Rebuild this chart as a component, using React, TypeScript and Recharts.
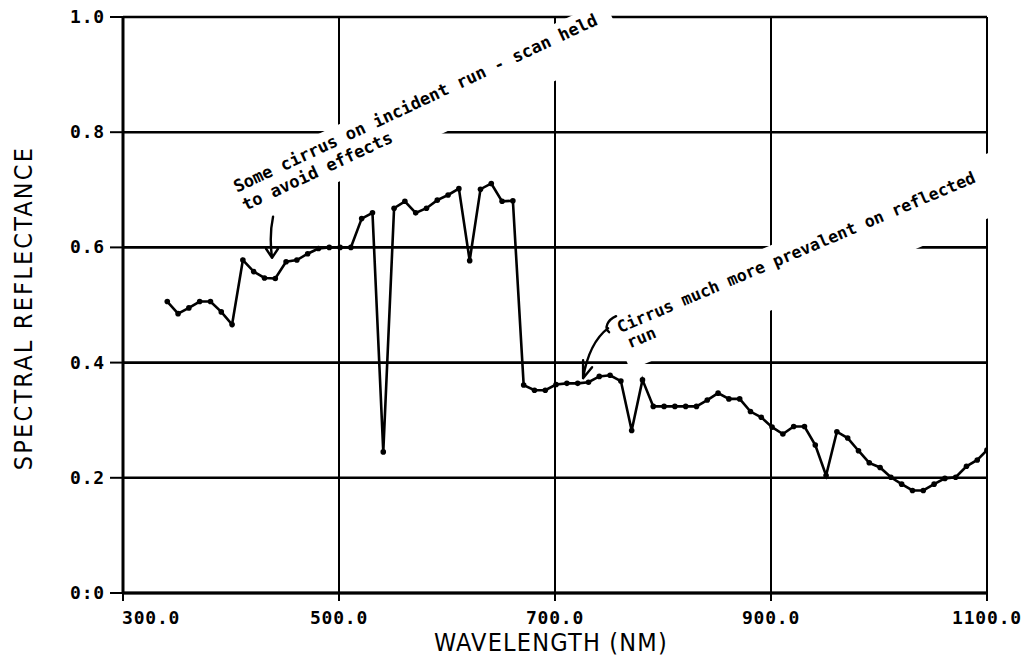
import React from 'react';
import { LineChart, Line, XAxis, YAxis, CartesianGrid, ReferenceDot, Label } from 'recharts';

// wavelength (nm) of each plotted sample
const wavelengths = [
  341, 351, 361, 371, 381, 391, 401, 411, 421, 431, 441, 451, 461, 471, 481, 491, 501, 511, 521, 531,
  541, 551, 561, 571, 581, 591, 601, 611, 621, 631, 641, 651, 661, 671, 681, 691, 701, 711, 721, 731,
  741, 751, 761, 771, 781, 791, 801, 811, 821, 831, 841, 851, 861, 871, 881, 891, 901, 911, 921, 931,
  941, 951, 961, 971, 981, 991, 1001, 1011, 1021, 1031, 1041, 1051, 1061, 1071, 1081, 1091, 1100,
];

// spectral reflectance
const reflectance = [
  0.506, 0.485, 0.495, 0.506, 0.506, 0.488, 0.466, 0.578, 0.558, 0.547, 0.546, 0.575, 0.578, 0.589,
  0.598, 0.6, 0.6, 0.6, 0.65, 0.66, 0.245, 0.668, 0.68, 0.66, 0.668, 0.682, 0.691, 0.702, 0.577,
  0.701, 0.711, 0.68, 0.681, 0.361, 0.352, 0.352, 0.362, 0.364, 0.364, 0.366, 0.376, 0.378, 0.368,
  0.282, 0.37, 0.324, 0.324, 0.324, 0.324, 0.324, 0.335, 0.347, 0.337, 0.337, 0.315, 0.305, 0.288,
  0.276, 0.289, 0.289, 0.257, 0.204, 0.28, 0.269, 0.247, 0.226, 0.218, 0.201, 0.189, 0.178, 0.178,
  0.189, 0.199, 0.201, 0.22, 0.231, 0.248,
];

const xTicks = [300, 500, 700, 900, 1100];
const xTickLabels = ['300.0', '500.0', '700.0', '900.0', '1100.0'];
const yTicks = [0, 0.2, 0.4, 0.6, 0.8, 1.0];
const yTickLabels = ['0:0', '0.2', '0.4', '0.6', '0.8', '1.0'];

// hand-written notes: where the arrow points, and the text
const noteAt = [
  { x: 438, y: 0.582 },
  { x: 726, y: 0.373 },
];
const noteText = [
  ['Some cirrus on incident run - scan held', 'to avoid effects'],
  ['Cirrus much more prevalent on reflected', 'run'],
];

const data = wavelengths.map((wl, i) => ({ wl, r: reflectance[i] }));

const tickFont = '"DejaVu Sans Mono", monospace';
const titleFont = '"DejaVu Sans Condensed", "DejaVu Sans", sans-serif';
const noteFont = '"DejaVu Sans Mono", monospace';

function XTick(props: any) {
  const { x, y, payload } = props;
  const i = xTicks.indexOf(payload.value);
  const first = i === 0;
  return (
    <text
      x={first ? x - 1 : x}
      y={y + 21}
      textAnchor={first ? 'start' : 'middle'}
      fontFamily={tickFont}
      fontWeight="bold"
      fontSize={18}
      letterSpacing={0.8}
      fill="#000"
    >
      {xTickLabels[i]}
    </text>
  );
}

function YTick(props: any) {
  const { x, y, payload } = props;
  const i = yTicks.findIndex((t) => Math.abs(t - payload.value) < 1e-6);
  return (
    <text
      x={x}
      y={y + 6}
      textAnchor="end"
      fontFamily={tickFont}
      fontWeight="bold"
      fontSize={18}
      letterSpacing={0.8}
      fill="#000"
    >
      {yTickLabels[i]}
    </text>
  );
}

function XTitle(props: any) {
  const vb = props.viewBox;
  return (
    <text
      x={vb.x + vb.width / 2 - 4}
      y={vb.y + 58}
      textAnchor="middle"
      fontFamily={titleFont}
      fontSize={25}
      letterSpacing={1.2}
      fill="#000"
    >
      WAVELENGTH (NM)
    </text>
  );
}

function YTitle(props: any) {
  const vb = props.viewBox;
  const cy = vb.y + vb.height / 2 + 3;
  return (
    <text
      x={32}
      y={cy}
      transform={`rotate(-90, 32, ${cy})`}
      textAnchor="middle"
      fontFamily={titleFont}
      fontSize={25}
      letterSpacing={2.2}
      fill="#000"
    >
      SPECTRAL REFLECTANCE
    </text>
  );
}

function incidentNote(props: any) {
  const { cx, cy } = props;
  const lines = noteText[0];
  return (
    <g>
      <g transform={`translate(${cx - 35},${cy - 65}) rotate(-25)`}>
        <rect x={-6} y={-19} width={420} height={52} fill="#fff" />
        {lines.map((t, i) => (
          <text
            key={i}
            x={0}
            y={i * 20}
            fontFamily={noteFont}
            fontWeight="bold"
            fontSize={17}
            fill="#000"
          >
            {t}
          </text>
        ))}
      </g>
      <path
        transform={`translate(${cx},${cy})`}
        d="M 1 -41 Q -3 -22 0 0 M 0 0 L -6 -9 M 0 0 L 6 -9"
        stroke="#000"
        strokeWidth={2.4}
        fill="none"
        strokeLinecap="round"
      />
    </g>
  );
}

function reflectedNote(props: any) {
  const { cx, cy } = props;
  const lines = noteText[1];
  return (
    <g>
      <g transform={`translate(${cx + 37},${cy - 45}) rotate(-23)`}>
        <rect x={-5} y={-22} width={415} height={60} fill="#fff" />
        <text x={0} y={0} fontFamily={noteFont} fontWeight="bold" fontSize={16.5} fill="#000">
          {lines[0]}
        </text>
        <text x={3} y={18} fontFamily={noteFont} fontWeight="bold" fontSize={16.5} fill="#000">
          {lines[1]}
        </text>
      </g>
      <path
        transform={`translate(${cx},${cy})`}
        d="M 33 -62 C 24 -58 21 -50 26 -46 M 25 -50 C 12 -40 4 -24 0 0 M 0 0 L 0 -18 M 0 0 L 9 -11"
        stroke="#000"
        strokeWidth={2.4}
        fill="none"
        strokeLinecap="round"
      />
    </g>
  );
}

export default function App() {
  return (
    <div style={{ position: 'absolute', left: 0, top: 0, background: '#fff' }}>
      <LineChart
        width={1030}
        height={658}
        data={data}
        margin={{ top: 17, right: 43, bottom: 0, left: 0 }}
      >
        <CartesianGrid vertical={false} stroke="#000" strokeWidth={2.6} />
        <CartesianGrid horizontal={false} stroke="#000" strokeWidth={2} />
        <XAxis
          dataKey="wl"
          type="number"
          domain={[300, 1100]}
          ticks={xTicks}
          height={65}
          tick={<XTick />}
          tickSize={8}
          tickLine={{ stroke: '#000', strokeWidth: 2 }}
          axisLine={{ stroke: '#000', strokeWidth: 3 }}
          allowDataOverflow
        >
          <Label content={<XTitle />} />
        </XAxis>
        <YAxis
          type="number"
          domain={[0, 1]}
          ticks={yTicks}
          width={123}
          tick={<YTick />}
          tickSize={13}
          tickMargin={5}
          tickLine={{ stroke: '#000', strokeWidth: 2 }}
          axisLine={{ stroke: '#000', strokeWidth: 3 }}
        >
          <Label content={<YTitle />} />
        </YAxis>
        <Line
          type="linear"
          dataKey="r"
          stroke="#000"
          strokeWidth={2.6}
          dot={{ r: 2.8, fill: '#000', stroke: '#000', strokeWidth: 0 }}
          isAnimationActive={false}
        />
        <ReferenceDot x={noteAt[0].x} y={noteAt[0].y} r={0} ifOverflow="visible" shape={incidentNote} />
        <ReferenceDot x={noteAt[1].x} y={noteAt[1].y} r={0} ifOverflow="visible" shape={reflectedNote} />
      </LineChart>
    </div>
  );
}
